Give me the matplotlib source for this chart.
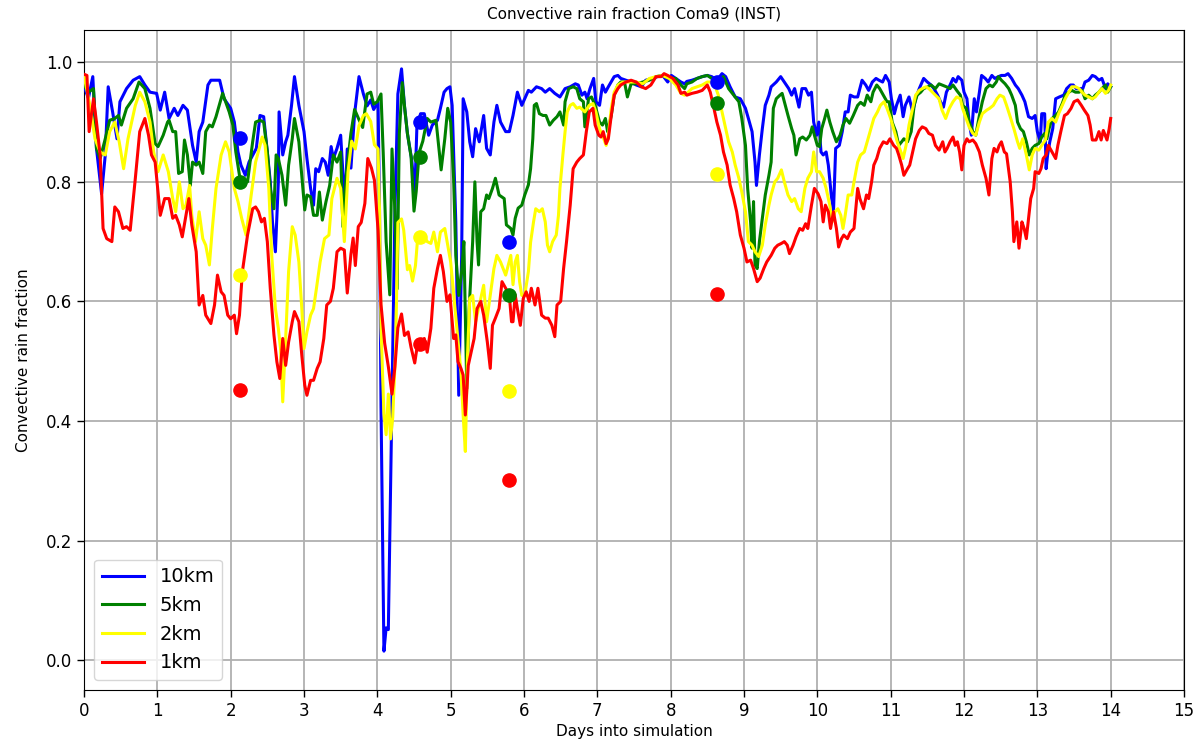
import matplotlib
matplotlib.use("Agg")
import matplotlib.pyplot as plt

title = "Convective rain fraction Coma9 (INST)"
xlabel = "Days into simulation"
ylabel = "Convective rain fraction"
labels = ["10km", "5km", "2km", "1km"]
colors = ["blue", "green", "yellow", "red"]

blue = [(0.00,0.96),(0.06,0.94),(0.12,0.976),(0.17,0.856),(0.24,0.78),(0.29,0.845),(0.33,0.959),(0.39,0.917),
(0.45,0.872),(0.49,0.934),(0.58,0.956),(0.67,0.97),(0.76,0.976),(0.83,0.962),(0.90,0.95),(0.99,0.948),(1.04,0.92),
(1.10,0.95),(1.16,0.906),(1.23,0.923),(1.28,0.911),(1.35,0.928),(1.41,0.92),(1.48,0.861),(1.53,0.833),(1.57,0.884),
(1.62,0.90),(1.69,0.962),(1.73,0.97),(1.85,0.97),(1.91,0.939),(2.00,0.923),(2.05,0.90),(2.10,0.85),(2.14,0.828),
(2.20,0.811),(2.25,0.833),(2.35,0.856),(2.40,0.911),(2.45,0.909),(2.50,0.85),(2.54,0.80),(2.57,0.733),(2.61,0.683),
(2.65,0.80),(2.66,0.917),(2.71,0.845),(2.75,0.867),(2.78,0.878),(2.83,0.928),(2.87,0.976),(2.93,0.928),(3.00,0.884),
(3.04,0.839),(3.09,0.789),(3.13,0.761),(3.16,0.822),(3.20,0.817),(3.25,0.839),(3.29,0.833),(3.33,0.811),(3.37,0.859),
(3.40,0.839),(3.45,0.856),(3.50,0.878),(3.53,0.816),(3.56,0.764),(3.59,0.855),(3.64,0.823),(3.69,0.914),(3.75,0.976),
(3.81,0.947),(3.86,0.927),(3.91,0.937),(3.95,0.921),(4.01,0.934),(4.03,0.751),(4.05,0.425),(4.09,0.015),(4.12,0.054),
(4.15,0.051),(4.19,0.36),(4.24,0.751),(4.28,0.947),(4.33,0.989),(4.37,0.927),(4.41,0.881),(4.47,0.836),(4.51,0.777),
(4.54,0.894),(4.59,0.914),(4.64,0.914),(4.70,0.878),(4.75,0.895),(4.82,0.903),(4.86,0.923),(4.91,0.95),(4.95,0.956),
(4.99,0.959),(5.02,0.928),(5.07,0.733),(5.11,0.443),(5.15,0.677),(5.17,0.939),(5.22,0.917),(5.26,0.867),(5.30,0.842),
(5.34,0.889),(5.39,0.867),(5.45,0.911),(5.49,0.856),(5.54,0.845),(5.59,0.90),(5.63,0.928),(5.68,0.90),(5.75,0.884),
(5.80,0.884),(5.85,0.911),(5.91,0.95),(5.97,0.928),(6.01,0.939),(6.06,0.953),(6.10,0.95),(6.17,0.959),(6.24,0.956),
(6.29,0.95),(6.35,0.956),(6.42,0.948),(6.49,0.942),(6.56,0.956),(6.63,0.959),(6.70,0.964),(6.74,0.962),(6.79,0.945),
(6.83,0.95),(6.86,0.939),(6.90,0.956),(6.95,0.973),(6.98,0.934),(7.03,0.928),(7.07,0.962),(7.11,0.95),(7.15,0.959),
(7.23,0.976),(7.28,0.978),(7.32,0.973),(7.39,0.97),(7.46,0.967),(7.53,0.962),(7.60,0.959),(7.66,0.97),(7.75,0.973),
(7.82,0.976),(7.89,0.978),(7.96,0.967),(8.01,0.978),(8.07,0.973),(8.14,0.967),(8.19,0.964),(8.22,0.968),(8.29,0.97),
(8.36,0.973),(8.43,0.976),(8.50,0.978),(8.56,0.976),(8.63,0.97),(8.70,0.981),(8.75,0.976),(8.81,0.959),(8.88,0.942),
(8.95,0.939),(9.02,0.923),(9.06,0.906),(9.11,0.884),(9.15,0.833),(9.17,0.794),(9.21,0.845),(9.25,0.889),(9.29,0.928),
(9.34,0.945),(9.37,0.959),(9.44,0.967),(9.50,0.976),(9.55,0.967),(9.61,0.956),(9.65,0.945),(9.69,0.956),(9.75,0.925),
(9.79,0.956),(9.84,0.956),(9.88,0.945),(9.92,0.95),(9.95,0.90),(9.99,0.878),(10.02,0.90),(10.05,0.85),(10.08,0.845),
(10.12,0.85),(10.15,0.828),(10.19,0.778),(10.22,0.75),(10.25,0.856),(10.30,0.861),(10.34,0.884),(10.38,0.917),
(10.42,0.917),(10.45,0.945),(10.50,0.942),(10.55,0.942),(10.61,0.97),(10.66,0.962),(10.70,0.953),(10.75,0.967),
(10.80,0.973),(10.84,0.97),(10.89,0.967),(10.93,0.978),(10.98,0.967),(11.01,0.939),(11.05,0.914),(11.08,0.928),
(11.13,0.945),(11.17,0.909),(11.20,0.928),(11.25,0.942),(11.30,0.917),(11.34,0.939),(11.39,0.956),(11.45,0.973),
(11.50,0.967),(11.55,0.962),(11.59,0.956),(11.64,0.945),(11.68,0.934),(11.72,0.925),(11.76,0.95),(11.81,0.962),
(11.85,0.973),(11.89,0.967),(11.92,0.976),(11.97,0.97),(12.00,0.95),(12.04,0.939),(12.07,0.90),(12.10,0.878),
(12.14,0.939),(12.17,0.917),(12.21,0.95),(12.24,0.978),(12.29,0.973),(12.33,0.967),(12.38,0.978),(12.42,0.973),
(12.47,0.976),(12.51,0.978),(12.56,0.978),(12.60,0.981),(12.65,0.973),(12.70,0.962),(12.74,0.956),(12.79,0.945),
(12.83,0.934),(12.88,0.909),(12.93,0.906),(12.97,0.911),(13.00,0.884),(13.04,0.867),(13.06,0.914),(13.10,0.914),
(13.12,0.822),(13.14,0.845),(13.17,0.867),(13.21,0.889),(13.25,0.939),(13.30,0.942),(13.36,0.945),(13.40,0.956),
(13.45,0.962),(13.49,0.962),(13.53,0.956),(13.57,0.956),(13.62,0.956),(13.65,0.967),(13.70,0.97),(13.75,0.978),
(13.79,0.976),(13.84,0.97),(13.88,0.973),(13.93,0.956),(13.96,0.964),(14.00,0.959)]

green = [(0.00,0.962),(0.06,0.95),(0.13,0.956),(0.17,0.856),(0.22,0.839),(0.29,0.872),(0.35,0.903),(0.42,0.906),
(0.47,0.911),(0.51,0.895),(0.58,0.923),(0.67,0.939),(0.75,0.967),(0.83,0.956),(0.90,0.923),(0.97,0.864),(1.01,0.859),
(1.08,0.878),(1.14,0.90),(1.16,0.903),(1.21,0.884),(1.25,0.884),(1.29,0.814),(1.34,0.817),(1.37,0.87),(1.41,0.845),
(1.45,0.794),(1.48,0.833),(1.53,0.828),(1.57,0.833),(1.62,0.814),(1.66,0.884),(1.71,0.895),(1.75,0.892),(1.80,0.909),
(1.89,0.948),(1.98,0.917),(2.03,0.895),(2.07,0.85),(2.12,0.811),(2.16,0.80),(2.23,0.80),(2.30,0.867),(2.34,0.90),
(2.40,0.903),(2.45,0.90),(2.50,0.85),(2.54,0.789),(2.59,0.755),(2.62,0.845),(2.65,0.839),(2.70,0.811),(2.75,0.761),
(2.79,0.828),(2.84,0.872),(2.87,0.906),(2.93,0.867),(2.97,0.811),(3.01,0.753),(3.04,0.778),(3.09,0.775),(3.13,0.744),
(3.18,0.744),(3.21,0.783),(3.25,0.736),(3.30,0.767),(3.35,0.794),(3.40,0.845),(3.45,0.833),(3.50,0.85),(3.53,0.725),
(3.58,0.816),(3.64,0.881),(3.69,0.921),(3.75,0.904),(3.80,0.891),(3.86,0.947),(3.91,0.95),(3.95,0.93),(4.00,0.934),
(4.05,0.947),(4.08,0.849),(4.12,0.70),(4.17,0.611),(4.20,0.855),(4.24,0.751),(4.27,0.621),(4.30,0.881),(4.34,0.966),
(4.37,0.927),(4.41,0.881),(4.46,0.842),(4.50,0.751),(4.53,0.784),(4.57,0.849),(4.62,0.868),(4.68,0.906),(4.73,0.90),
(4.80,0.903),(4.84,0.856),(4.87,0.82),(4.92,0.872),(4.96,0.923),(5.00,0.90),(5.04,0.806),(5.07,0.677),(5.11,0.61),
(5.15,0.65),(5.18,0.70),(5.22,0.454),(5.25,0.583),(5.30,0.70),(5.33,0.80),(5.36,0.70),(5.38,0.661),(5.41,0.75),
(5.45,0.755),(5.49,0.778),(5.52,0.772),(5.57,0.789),(5.61,0.806),(5.66,0.778),(5.73,0.772),(5.76,0.728),(5.82,0.722),
(5.85,0.711),(5.88,0.739),(5.92,0.756),(5.97,0.761),(6.01,0.778),(6.06,0.795),(6.09,0.822),(6.12,0.872),(6.14,0.928),
(6.17,0.931),(6.21,0.914),(6.26,0.911),(6.30,0.911),(6.35,0.895),(6.40,0.903),(6.45,0.909),(6.49,0.917),(6.54,0.895),
(6.56,0.934),(6.61,0.956),(6.67,0.959),(6.72,0.956),(6.76,0.939),(6.81,0.934),(6.83,0.892),(6.88,0.939),(6.92,0.942),
(6.97,0.928),(7.03,0.90),(7.07,0.895),(7.11,0.906),(7.14,0.884),(7.19,0.911),(7.23,0.945),(7.28,0.962),(7.32,0.967),
(7.37,0.967),(7.41,0.942),(7.46,0.964),(7.53,0.964),(7.62,0.967),(7.71,0.97),(7.80,0.976),(7.89,0.978),(7.98,0.973),
(8.07,0.973),(8.14,0.962),(8.19,0.956),(8.22,0.964),(8.29,0.967),(8.36,0.973),(8.43,0.976),(8.50,0.978),(8.56,0.973),
(8.61,0.967),(8.68,0.973),(8.72,0.976),(8.79,0.956),(8.86,0.945),(8.93,0.934),(8.97,0.906),(9.02,0.861),(9.05,0.789),
(9.09,0.733),(9.11,0.689),(9.13,0.767),(9.15,0.661),(9.18,0.655),(9.21,0.70),(9.25,0.739),(9.29,0.778),(9.34,0.811),
(9.37,0.833),(9.40,0.923),(9.44,0.939),(9.49,0.945),(9.52,0.948),(9.55,0.934),(9.60,0.911),(9.65,0.889),(9.68,0.878),
(9.71,0.845),(9.76,0.872),(9.80,0.875),(9.85,0.87),(9.90,0.878),(9.93,0.892),(9.96,0.878),(10.00,0.861),(10.03,0.859),
(10.06,0.889),(10.10,0.906),(10.13,0.92),(10.17,0.90),(10.21,0.884),(10.26,0.867),(10.31,0.878),(10.35,0.895),
(10.39,0.906),(10.44,0.898),(10.49,0.911),(10.55,0.928),(10.59,0.933),(10.64,0.928),(10.68,0.945),(10.73,0.934),
(10.76,0.95),(10.81,0.962),(10.85,0.956),(10.90,0.945),(10.95,0.934),(10.98,0.934),(11.02,0.90),(11.07,0.884),
(11.11,0.861),(11.15,0.867),(11.18,0.872),(11.23,0.867),(11.28,0.884),(11.32,0.928),(11.36,0.945),(11.41,0.95),
(11.45,0.956),(11.51,0.959),(11.55,0.962),(11.61,0.956),(11.66,0.964),(11.70,0.962),(11.76,0.959),(11.81,0.956),
(11.85,0.962),(11.90,0.953),(11.95,0.945),(11.98,0.928),(12.03,0.923),(12.07,0.90),(12.12,0.884),(12.16,0.878),
(12.21,0.911),(12.25,0.934),(12.30,0.956),(12.35,0.962),(12.39,0.959),(12.44,0.967),(12.47,0.976),(12.51,0.97),
(12.56,0.964),(12.61,0.956),(12.65,0.945),(12.70,0.928),(12.73,0.90),(12.77,0.889),(12.81,0.884),(12.85,0.867),
(12.89,0.845),(12.93,0.856),(12.97,0.861),(13.02,0.864),(13.06,0.875),(13.10,0.881),(13.13,0.872),(13.16,0.889),
(13.20,0.906),(13.25,0.911),(13.29,0.917),(13.34,0.931),(13.38,0.945),(13.43,0.95),(13.47,0.953),(13.52,0.95),
(13.57,0.95),(13.61,0.953),(13.65,0.939),(13.70,0.945),(13.75,0.939),(13.79,0.945),(13.84,0.95),(13.88,0.956),
(13.93,0.962),(13.96,0.95),(14.00,0.959)]

yellow = [(0.00,0.978),(0.08,0.928),(0.15,0.872),(0.22,0.85),(0.29,0.845),(0.35,0.884),(0.42,0.90),(0.48,0.867),
(0.54,0.822),(0.60,0.872),(0.70,0.928),(0.76,0.95),(0.83,0.934),(0.90,0.90),(0.95,0.85),(1.01,0.817),(1.08,0.845),
(1.15,0.817),(1.21,0.772),(1.25,0.75),(1.30,0.80),(1.35,0.755),(1.39,0.761),(1.44,0.794),(1.47,0.744),(1.52,0.70),
(1.57,0.75),(1.62,0.705),(1.66,0.694),(1.71,0.661),(1.75,0.722),(1.80,0.789),(1.87,0.845),(1.93,0.867),(1.98,0.85),
(2.05,0.789),(2.10,0.767),(2.15,0.739),(2.21,0.711),(2.28,0.778),(2.34,0.833),(2.43,0.875),(2.47,0.861),(2.52,0.789),
(2.56,0.677),(2.61,0.588),(2.65,0.555),(2.68,0.521),(2.71,0.432),(2.75,0.538),(2.79,0.65),(2.84,0.725),(2.88,0.711),
(2.93,0.666),(2.97,0.588),(3.00,0.521),(3.04,0.549),(3.09,0.577),(3.13,0.588),(3.17,0.622),(3.22,0.666),(3.28,0.705),
(3.34,0.711),(3.38,0.772),(3.45,0.806),(3.50,0.789),(3.55,0.70),(3.60,0.816),(3.65,0.868),(3.70,0.855),(3.75,0.894),
(3.81,0.911),(3.85,0.914),(3.91,0.901),(3.96,0.862),(4.01,0.855),(4.03,0.751),(4.05,0.556),(4.09,0.412),(4.12,0.377),
(4.15,0.445),(4.18,0.37),(4.21,0.406),(4.25,0.523),(4.28,0.732),(4.33,0.738),(4.36,0.719),(4.41,0.653),(4.44,0.66),
(4.48,0.634),(4.52,0.66),(4.55,0.706),(4.65,0.706),(4.68,0.70),(4.73,0.697),(4.77,0.716),(4.82,0.683),(4.86,0.716),
(4.92,0.722),(4.96,0.694),(5.00,0.666),(5.05,0.60),(5.09,0.549),(5.14,0.482),(5.17,0.41),(5.20,0.349),(5.23,0.51),
(5.26,0.605),(5.30,0.61),(5.34,0.566),(5.39,0.594),(5.45,0.627),(5.49,0.566),(5.54,0.61),(5.59,0.655),(5.63,0.677),
(5.68,0.666),(5.75,0.644),(5.82,0.677),(5.85,0.628),(5.88,0.666),(5.91,0.677),(5.94,0.633),(5.97,0.61),(6.01,0.61),
(6.06,0.65),(6.09,0.699),(6.13,0.733),(6.16,0.755),(6.21,0.75),(6.25,0.755),(6.29,0.733),(6.32,0.694),(6.35,0.683),
(6.39,0.70),(6.44,0.711),(6.47,0.744),(6.49,0.789),(6.53,0.845),(6.56,0.884),(6.59,0.917),(6.63,0.928),(6.67,0.931),
(6.72,0.923),(6.76,0.925),(6.83,0.917),(6.89,0.928),(6.94,0.931),(6.98,0.917),(7.03,0.889),(7.07,0.878),(7.12,0.861),
(7.15,0.878),(7.19,0.923),(7.23,0.95),(7.28,0.962),(7.35,0.967),(7.44,0.967),(7.53,0.967),(7.62,0.964),(7.71,0.973),
(7.80,0.976),(7.89,0.978),(7.98,0.973),(8.07,0.962),(8.14,0.948),(8.19,0.945),(8.22,0.948),(8.29,0.956),(8.36,0.959),
(8.43,0.962),(8.50,0.967),(8.56,0.967),(8.61,0.959),(8.65,0.945),(8.70,0.917),(8.75,0.889),(8.79,0.867),(8.84,0.85),
(8.88,0.828),(8.93,0.806),(8.97,0.783),(9.02,0.75),(9.06,0.70),(9.11,0.694),(9.15,0.683),(9.20,0.675),(9.25,0.694),
(9.29,0.728),(9.34,0.761),(9.37,0.778),(9.42,0.80),(9.46,0.806),(9.51,0.82),(9.55,0.80),(9.60,0.778),(9.65,0.767),
(9.69,0.772),(9.74,0.755),(9.78,0.75),(9.83,0.789),(9.87,0.806),(9.92,0.817),(9.95,0.85),(9.99,0.817),(10.03,0.817),
(10.08,0.806),(10.12,0.789),(10.17,0.761),(10.20,0.733),(10.24,0.75),(10.28,0.755),(10.32,0.744),(10.35,0.722),
(10.38,0.744),(10.42,0.778),(10.47,0.778),(10.50,0.80),(10.55,0.833),(10.59,0.845),(10.64,0.85),(10.68,0.867),
(10.73,0.889),(10.77,0.906),(10.82,0.917),(10.86,0.928),(10.91,0.934),(10.95,0.923),(11.00,0.906),(11.05,0.884),
(11.09,0.867),(11.14,0.85),(11.17,0.839),(11.21,0.861),(11.25,0.895),(11.30,0.923),(11.34,0.945),(11.39,0.953),
(11.43,0.956),(11.48,0.959),(11.52,0.956),(11.57,0.95),(11.61,0.945),(11.66,0.939),(11.70,0.92),(11.75,0.906),
(11.80,0.923),(11.85,0.934),(11.90,0.942),(11.95,0.939),(11.98,0.923),(12.03,0.906),(12.07,0.892),(12.12,0.881),
(12.16,0.878),(12.21,0.90),(12.25,0.914),(12.31,0.92),(12.35,0.923),(12.40,0.928),(12.45,0.939),(12.49,0.945),
(12.54,0.942),(12.58,0.928),(12.63,0.909),(12.68,0.889),(12.73,0.867),(12.76,0.856),(12.80,0.872),(12.85,0.845),
(12.89,0.82),(12.93,0.845),(12.97,0.856),(13.02,0.853),(13.06,0.861),(13.11,0.87),(13.15,0.90),(13.20,0.906),
(13.25,0.90),(13.29,0.914),(13.34,0.928),(13.38,0.939),(13.43,0.95),(13.47,0.959),(13.52,0.959),(13.57,0.956),
(13.61,0.95),(13.65,0.945),(13.70,0.942),(13.75,0.939),(13.79,0.942),(13.84,0.95),(13.88,0.956),(13.93,0.948),
(13.97,0.953),(14.00,0.962)]

red = [(0.00,0.98),(0.04,0.978),(0.07,0.884),(0.13,0.939),(0.17,0.90),(0.22,0.845),(0.26,0.722),(0.31,0.705),
(0.38,0.70),(0.42,0.758),(0.47,0.75),(0.53,0.722),(0.58,0.725),(0.63,0.719),(0.70,0.806),(0.76,0.884),(0.83,0.906),
(0.88,0.878),(0.92,0.845),(0.97,0.833),(1.04,0.744),(1.10,0.772),(1.16,0.772),(1.21,0.739),(1.25,0.744),(1.30,0.728),
(1.34,0.708),(1.39,0.744),(1.43,0.772),(1.47,0.728),(1.53,0.683),(1.57,0.594),(1.62,0.61),(1.66,0.577),(1.73,0.563),
(1.78,0.594),(1.82,0.644),(1.87,0.616),(1.91,0.61),(1.96,0.577),(2.00,0.571),(2.05,0.577),(2.08,0.546),(2.12,0.577),
(2.16,0.65),(2.23,0.711),(2.30,0.755),(2.34,0.758),(2.38,0.75),(2.42,0.733),(2.46,0.739),(2.50,0.70),(2.54,0.622),
(2.59,0.544),(2.63,0.499),(2.67,0.471),(2.71,0.538),(2.75,0.493),(2.79,0.532),(2.84,0.566),(2.87,0.583),(2.93,0.566),
(2.97,0.51),(3.01,0.46),(3.04,0.443),(3.09,0.468),(3.13,0.468),(3.18,0.488),(3.22,0.499),(3.27,0.538),(3.31,0.594),
(3.36,0.60),(3.40,0.622),(3.45,0.683),(3.50,0.689),(3.55,0.686),(3.59,0.614),(3.64,0.679),(3.67,0.706),(3.70,0.66),
(3.74,0.725),(3.78,0.732),(3.83,0.764),(3.87,0.839),(3.92,0.823),(3.96,0.803),(4.01,0.719),(4.05,0.595),(4.10,0.53),
(4.15,0.491),(4.20,0.445),(4.24,0.491),(4.28,0.556),(4.33,0.579),(4.37,0.543),(4.42,0.549),(4.46,0.523),(4.51,0.497),
(4.55,0.53),(4.60,0.53),(4.64,0.538),(4.68,0.515),(4.73,0.555),(4.77,0.622),(4.82,0.655),(4.86,0.677),(4.90,0.65),
(4.95,0.60),(4.99,0.611),(5.04,0.538),(5.07,0.544),(5.10,0.499),(5.14,0.488),(5.17,0.477),(5.20,0.41),(5.24,0.493),
(5.27,0.51),(5.32,0.538),(5.36,0.588),(5.41,0.60),(5.45,0.577),(5.50,0.532),(5.54,0.488),(5.57,0.56),(5.61,0.572),
(5.66,0.588),(5.70,0.633),(5.75,0.622),(5.80,0.61),(5.83,0.566),(5.85,0.566),(5.88,0.611),(5.91,0.588),(5.95,0.56),
(5.99,0.605),(6.03,0.616),(6.07,0.60),(6.10,0.622),(6.15,0.594),(6.19,0.622),(6.24,0.577),(6.29,0.572),(6.33,0.572),
(6.38,0.56),(6.42,0.541),(6.45,0.594),(6.50,0.60),(6.54,0.655),(6.58,0.70),(6.63,0.761),(6.67,0.822),(6.72,0.833),
(6.76,0.839),(6.81,0.845),(6.85,0.884),(6.89,0.917),(6.94,0.923),(6.97,0.895),(7.02,0.878),(7.05,0.875),(7.08,0.884),
(7.12,0.864),(7.15,0.872),(7.19,0.911),(7.23,0.945),(7.28,0.956),(7.32,0.962),(7.39,0.967),(7.46,0.97),(7.53,0.967),
(7.60,0.959),(7.66,0.956),(7.73,0.962),(7.80,0.976),(7.87,0.976),(7.91,0.981),(7.96,0.978),(8.03,0.973),(8.10,0.962),
(8.14,0.948),(8.19,0.95),(8.22,0.945),(8.29,0.948),(8.36,0.95),(8.43,0.953),(8.50,0.962),(8.54,0.95),(8.59,0.923),
(8.63,0.90),(8.68,0.878),(8.72,0.85),(8.77,0.828),(8.81,0.795),(8.86,0.772),(8.90,0.75),(8.95,0.711),(9.00,0.689),
(9.04,0.666),(9.09,0.669),(9.13,0.655),(9.18,0.633),(9.22,0.639),(9.27,0.655),(9.31,0.666),(9.37,0.677),(9.42,0.689),
(9.46,0.694),(9.51,0.697),(9.55,0.70),(9.59,0.694),(9.62,0.68),(9.67,0.694),(9.71,0.708),(9.76,0.722),(9.80,0.719),
(9.84,0.73),(9.87,0.722),(9.92,0.761),(9.96,0.789),(10.01,0.78),(10.05,0.767),(10.08,0.733),(10.11,0.761),(10.15,0.75),
(10.18,0.722),(10.22,0.75),(10.26,0.722),(10.29,0.691),(10.33,0.705),(10.36,0.711),(10.41,0.705),(10.45,0.716),
(10.50,0.722),(10.55,0.789),(10.58,0.772),(10.63,0.755),(10.67,0.778),(10.70,0.772),(10.74,0.80),(10.77,0.828),
(10.81,0.839),(10.85,0.856),(10.90,0.867),(10.95,0.864),(10.99,0.872),(11.04,0.861),(11.08,0.856),(11.11,0.845),
(11.15,0.828),(11.18,0.811),(11.23,0.822),(11.26,0.828),(11.30,0.85),(11.34,0.872),(11.39,0.886),(11.43,0.892),
(11.48,0.889),(11.52,0.881),(11.57,0.878),(11.61,0.861),(11.66,0.853),(11.71,0.867),(11.74,0.85),(11.77,0.856),
(11.81,0.867),(11.85,0.875),(11.88,0.861),(11.91,0.867),(11.94,0.85),(11.97,0.82),(12.00,0.861),(12.04,0.872),
(12.07,0.867),(12.12,0.87),(12.16,0.864),(12.21,0.85),(12.25,0.828),(12.30,0.806),(12.34,0.778),(12.38,0.839),
(12.41,0.856),(12.45,0.85),(12.48,0.861),(12.51,0.867),(12.55,0.85),(12.58,0.847),(12.63,0.80),(12.66,0.75),
(12.68,0.70),(12.72,0.733),(12.75,0.689),(12.79,0.733),(12.82,0.722),(12.85,0.705),(12.91,0.772),(12.95,0.789),
(12.97,0.817),(13.02,0.814),(13.05,0.822),(13.08,0.839),(13.12,0.845),(13.15,0.861),(13.20,0.85),(13.25,0.839),
(13.28,0.861),(13.32,0.884),(13.37,0.911),(13.41,0.914),(13.46,0.923),(13.50,0.934),(13.55,0.937),(13.60,0.928),
(13.64,0.92),(13.69,0.911),(13.72,0.895),(13.75,0.87),(13.80,0.87),(13.84,0.884),(13.87,0.87),(13.90,0.886),
(13.95,0.87),(13.98,0.889),(14.00,0.906)]

# Single-value markers (dots)
marker_days = [2.125, 4.583, 5.792, 8.625]
marker_blue = [0.873, 0.900, 0.700, 0.967]
marker_green = [0.800, 0.842, 0.610, 0.932]
marker_yellow = [0.645, 0.708, 0.450, 0.813]
marker_red = [0.452, 0.528, 0.301, 0.613]

x_ticks = list(range(0, 16))
y_ticks = [0.0, 0.2, 0.4, 0.6, 0.8, 1.0]

fig = plt.figure(figsize=(11.98, 7.5), dpi=100)
ax = fig.add_axes([84/1198, 60/750, 1100/1198, 660/750])

series = [blue, green, yellow, red]
markers = [marker_blue, marker_green, marker_yellow, marker_red]
for s, c, lab in zip(series, colors, labels):
    t, v = zip(*s)
    ax.plot(t, v, color=c, lw=2.2, label=lab, zorder=3)
for m, c in zip(markers, colors):
    ax.plot(marker_days, m, 'o', color=c, ms=9.5, zorder=4, linestyle='none')

ax.set_xlim(0, 15)
ax.set_ylim(-0.05, 1.054)
ax.set_xticks(x_ticks)
ax.set_yticks(y_ticks)
ax.set_yticklabels([f"{v:.1f}" for v in y_ticks])
ax.grid(True, color='#b0b0b0', lw=1.3)
ax.set_axisbelow(True)
ax.tick_params(labelsize=12, length=5, width=1)
ax.set_title(title, fontsize=11, pad=8)
ax.set_xlabel(xlabel, fontsize=11, labelpad=3)
ax.set_ylabel(ylabel, fontsize=11, labelpad=11)
leg = ax.legend(loc='lower left', fontsize=14, borderaxespad=0.5, handlelength=2.2)

fig.savefig("out.png", dpi=100)
